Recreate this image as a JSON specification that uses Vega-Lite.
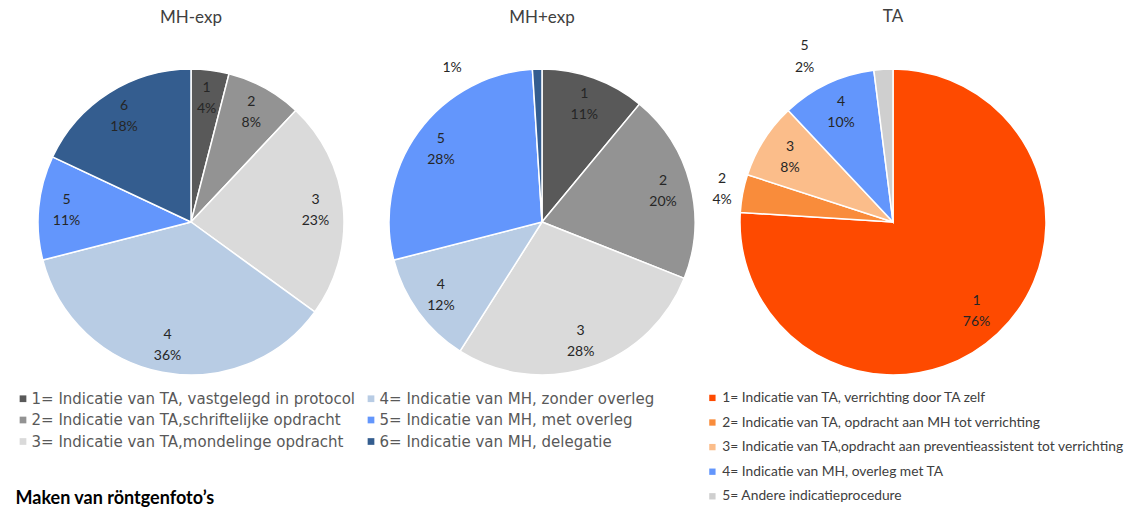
{
  "$schema": "https://vega.github.io/schema/vega-lite/v6.json",
  "background": "white",
  "padding": {"left": 15.5, "top": 8, "right": 0, "bottom": 0},
  "bounds": "flush",
  "spacing": 0,
  "title": {"text": "Maken van röntgenfoto’s", "orient": "bottom", "anchor": "start", "frame": "bounds", "offset": -14, "font": "Lato", "fontSize": 18, "fontWeight": "bold", "color": "#000000"},
  "data": {"values": [
    {"chart": "MH-exp", "cat": 1, "value": 4, "num": "1", "pct": "4%", "legend": "1= Indicatie van TA, vastgelegd in protocol"},
    {"chart": "MH-exp", "cat": 2, "value": 8, "num": "2", "pct": "8%", "legend": "2= Indicatie van TA,schriftelijke opdracht"},
    {"chart": "MH-exp", "cat": 3, "value": 23, "num": "3", "pct": "23%", "legend": "3= Indicatie van TA,mondelinge opdracht"},
    {"chart": "MH-exp", "cat": 4, "value": 36, "num": "4", "pct": "36%", "legend": "4= Indicatie van MH, zonder overleg"},
    {"chart": "MH-exp", "cat": 5, "value": 11, "num": "5", "pct": "11%", "legend": "5= Indicatie van MH, met overleg"},
    {"chart": "MH-exp", "cat": 6, "value": 18, "num": "6", "pct": "18%", "legend": "6= Indicatie van MH, delegatie"},
    {"chart": "MH+exp", "cat": 1, "value": 11, "num": "1", "pct": "11%", "legend": "1= Indicatie van TA, vastgelegd in protocol"},
    {"chart": "MH+exp", "cat": 2, "value": 20, "num": "2", "pct": "20%", "legend": "2= Indicatie van TA,schriftelijke opdracht"},
    {"chart": "MH+exp", "cat": 3, "value": 28, "num": "3", "pct": "28%", "legend": "3= Indicatie van TA,mondelinge opdracht"},
    {"chart": "MH+exp", "cat": 4, "value": 12, "num": "4", "pct": "12%", "legend": "4= Indicatie van MH, zonder overleg"},
    {"chart": "MH+exp", "cat": 5, "value": 28, "num": "5", "pct": "28%", "legend": "5= Indicatie van MH, met overleg"},
    {"chart": "MH+exp", "cat": 6, "value": 1, "num": "6", "pct": "1%", "legend": "6= Indicatie van MH, delegatie"},
    {"chart": "TA", "cat": 1, "value": 76, "num": "1", "pct": "76%", "legend": "1= Indicatie van TA, verrichting door TA zelf"},
    {"chart": "TA", "cat": 2, "value": 4, "num": "2", "pct": "4%", "legend": "2= Indicatie van TA, opdracht aan MH tot verrichting"},
    {"chart": "TA", "cat": 3, "value": 8, "num": "3", "pct": "8%", "legend": "3= Indicatie van TA,opdracht aan preventieassistent tot verrichting"},
    {"chart": "TA", "cat": 4, "value": 10, "num": "4", "pct": "10%", "legend": "4= Indicatie van MH, overleg met TA"},
    {"chart": "TA", "cat": 5, "value": 2, "num": "5", "pct": "2%", "legend": "5= Andere indicatieprocedure"}
  ]},
  "hconcat": [
    {
      "width": 351, "height": 350,
      "title": {"text": "MH-exp"},
      "transform": [{"filter": "datum.chart === 'MH-exp'"}],
      "encoding": {
        "theta": {"field": "value", "type": "quantitative", "stack": true},
        "order": {"field": "cat", "type": "quantitative"}
      },
      "layer": [
        {
          "mark": {"type": "arc", "outerRadius": 153, "stroke": "white", "strokeWidth": 1.5},
          "encoding": {
            "color": {"field": "legend", "type": "nominal",
              "scale": {"domain": ["1= Indicatie van TA, vastgelegd in protocol", "2= Indicatie van TA,schriftelijke opdracht", "3= Indicatie van TA,mondelinge opdracht", "4= Indicatie van MH, zonder overleg", "5= Indicatie van MH, met overleg", "6= Indicatie van MH, delegatie"],
                        "range": ["#595959", "#939393", "#dadada", "#b8cce4", "#6396fc", "#345d8f"]},
              "legend": {"orient": "none", "legendX": 0, "legendY": 344, "columns": 2, "title": null, "symbolType": "square", "symbolSize": 45, "symbolStrokeWidth": 0, "labelOffset": 1, "labelFont": "DejaVu Sans", "labelFontSize": 15, "labelColor": "#595959", "rowPadding": 5.5, "columnPadding": 8, "labelLimit": 500}}
          }
        },
        {
          "mark": {"type": "text", "radius": 125, "dy": -10, "font": "Lato", "fontSize": 14, "fill": "#262626"},
          "encoding": {"detail": {"field": "cat"}, "text": {"field": "num"}}
        },
        {
          "mark": {"type": "text", "radius": 125, "dy": 11, "font": "Lato", "fontSize": 14, "fill": "#262626"},
          "encoding": {"detail": {"field": "cat"}, "text": {"field": "pct"}}
        }
      ]
    },
    {
      "width": 351, "height": 350,
      "title": {"text": "MH+exp"},
      "transform": [{"filter": "datum.chart === 'MH+exp'"}],
      "encoding": {
        "theta": {"field": "value", "type": "quantitative", "stack": true},
        "order": {"field": "cat", "type": "quantitative"}
      },
      "layer": [
        {
          "mark": {"type": "arc", "outerRadius": 153, "stroke": "white", "strokeWidth": 1.5},
          "encoding": {
            "color": {"field": "legend", "type": "nominal",
              "scale": {"domain": ["1= Indicatie van TA, vastgelegd in protocol", "2= Indicatie van TA,schriftelijke opdracht", "3= Indicatie van TA,mondelinge opdracht", "4= Indicatie van MH, zonder overleg", "5= Indicatie van MH, met overleg", "6= Indicatie van MH, delegatie"],
                        "range": ["#595959", "#939393", "#dadada", "#b8cce4", "#6396fc", "#345d8f"]},
              "legend": null}
          }
        },
        {
          "mark": {"type": "text", "radius": 125, "dy": -10, "font": "Lato", "fontSize": 14, "fill": "#262626"},
          "encoding": {"detail": {"field": "cat"}, "text": {"condition": {"test": "datum.cat !== 6", "field": "num", "type": "nominal"}, "value": ""}}
        },
        {
          "mark": {"type": "text", "radius": 125, "dy": 11, "font": "Lato", "fontSize": 14, "fill": "#262626"},
          "encoding": {"detail": {"field": "cat"}, "text": {"condition": {"test": "datum.cat !== 6", "field": "pct", "type": "nominal"}, "value": ""}}
        },
        {
          "mark": {"type": "text", "radius": 154, "dx": -85, "font": "Lato", "fontSize": 14, "fill": "#262626"},
          "encoding": {"detail": {"field": "cat"}, "text": {"condition": {"test": "datum.cat === 6", "field": "pct", "type": "nominal"}, "value": ""}}
        }
      ]
    },
    {
      "width": 351, "height": 350,
      "title": {"text": "TA", "offset": 5},
      "transform": [{"filter": "datum.chart === 'TA'"}],
      "encoding": {
        "theta": {"field": "value", "type": "quantitative", "stack": true},
        "order": {"field": "cat", "type": "quantitative"}
      },
      "layer": [
        {
          "mark": {"type": "arc", "outerRadius": 153, "stroke": "white", "strokeWidth": 1.5},
          "encoding": {
            "color": {"field": "legend", "type": "nominal",
              "scale": {"domain": ["1= Indicatie van TA, verrichting door TA zelf", "2= Indicatie van TA, opdracht aan MH tot verrichting", "3= Indicatie van TA,opdracht aan preventieassistent tot verrichting", "4= Indicatie van MH, overleg met TA", "5= Andere indicatieprocedure"],
                        "range": ["#fe4a00", "#f98c3b", "#fbbd8a", "#6396fc", "#cfcfcf"]},
              "legend": {"orient": "none", "legendX": -12, "legendY": 344, "title": null, "symbolType": "square", "symbolSize": 40, "symbolStrokeWidth": 0, "labelOffset": 3, "labelFont": "Lato", "labelFontSize": 13.8, "labelColor": "#404040", "rowPadding": 9.6, "labelLimit": 500}}
          }
        },
        {
          "mark": {"type": "text", "radius": 122, "dy": -10, "font": "Lato", "fontSize": 14, "fill": "#262626"},
          "encoding": {"detail": {"field": "cat"}, "text": {"condition": {"test": "datum.cat !== 2 && datum.cat !== 5", "field": "num", "type": "nominal"}, "value": ""}}
        },
        {
          "mark": {"type": "text", "radius": 122, "dy": 11, "font": "Lato", "fontSize": 14, "fill": "#262626"},
          "encoding": {"detail": {"field": "cat"}, "text": {"condition": {"test": "datum.cat !== 2 && datum.cat !== 5", "field": "pct", "type": "nominal"}, "value": ""}}
        },
        {
          "mark": {"type": "text", "radius": 174, "dy": -10, "font": "Lato", "fontSize": 14, "fill": "#262626"},
          "encoding": {"detail": {"field": "cat"}, "text": {"condition": {"test": "datum.cat === 2", "field": "num", "type": "nominal"}, "value": ""}}
        },
        {
          "mark": {"type": "text", "radius": 174, "dy": 11, "font": "Lato", "fontSize": 14, "fill": "#262626"},
          "encoding": {"detail": {"field": "cat"}, "text": {"condition": {"test": "datum.cat === 2", "field": "pct", "type": "nominal"}, "value": ""}}
        },
        {
          "mark": {"type": "text", "radius": 165, "dx": -78, "dy": -11, "font": "Lato", "fontSize": 14, "fill": "#262626"},
          "encoding": {"detail": {"field": "cat"}, "text": {"condition": {"test": "datum.cat === 5", "field": "num", "type": "nominal"}, "value": ""}}
        },
        {
          "mark": {"type": "text", "radius": 165, "dx": -78, "dy": 11, "font": "Lato", "fontSize": 14, "fill": "#262626"},
          "encoding": {"detail": {"field": "cat"}, "text": {"condition": {"test": "datum.cat === 5", "field": "pct", "type": "nominal"}, "value": ""}}
        }
      ]
    }
  ],
  "resolve": {"scale": {"color": "independent", "theta": "independent"}},
  "config": {
    "view": {"stroke": null},
    "title": {"font": "Lato", "fontSize": 17, "fontWeight": "normal", "color": "#404040", "offset": 20}
  }
}
